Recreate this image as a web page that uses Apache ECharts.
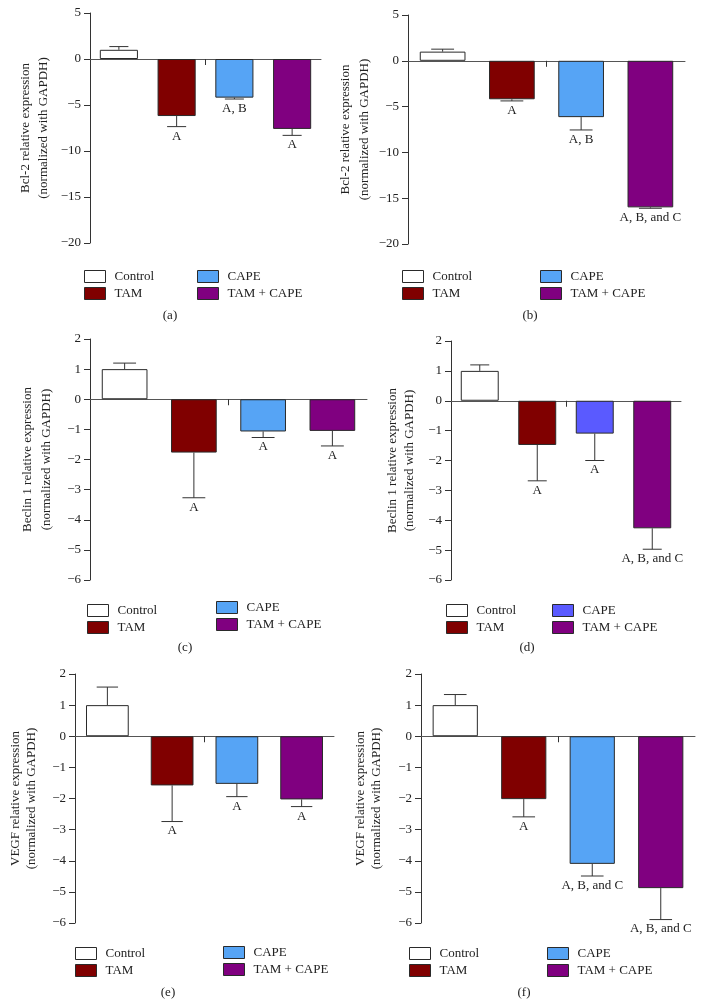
<!DOCTYPE html>
<html>
<head>
<meta charset="utf-8">
<script src="https://cdn.jsdelivr.net/npm/echarts@6/dist/echarts.min.js"></script>
<style>
  html, body { margin: 0; padding: 0; background: #fff; }
  #chart { width: 705px; height: 1008px; }
</style>
</head>
<body>
<div id="chart"></div>
<script>
// ---------- DATA ----------
const categories = ['Control', 'TAM', 'CAPE', 'TAM + CAPE'];

const bcl2A = [1.0, -6.2, -4.2, -7.6];
const bcl2AErr = [0.35, 1.15, 0.15, 0.7];
const bcl2ALabels = ['', 'A', 'A, B', 'A'];

const bcl2B = [1.0, -4.2, -6.15, -16.0];
const bcl2BErr = [0.27, 0.18, 1.4, 0.1];
const bcl2BLabels = ['', 'A', 'A, B', 'A, B, and C'];

const beclinC = [1.0, -1.77, -1.07, -1.05];
const beclinCErr = [0.2, 1.5, 0.2, 0.5];
const beclinCLabels = ['', 'A', 'A', 'A'];

const beclinD = [1.0, -1.48, -1.1, -4.27];
const beclinDErr = [0.2, 1.2, 0.9, 0.7];
const beclinDLabels = ['', 'A', 'A', 'A, B, and C'];

const vegfE = [1.0, -1.58, -1.53, -2.03];
const vegfEErr = [0.58, 1.16, 0.41, 0.23];
const vegfELabels = ['', 'A', 'A', 'A'];

const vegfF = [1.0, -2.02, -4.1, -4.88];
const vegfFErr = [0.34, 0.57, 0.39, 1.01];
const vegfFLabels = ['', 'A', 'A, B, and C', 'A, B, and C'];

const bclTicks = [5, 0, -5, -10, -15, -20];
const smallTicks = [2, 1, 0, -1, -2, -3, -4, -5, -6];
// gap tick on the x axis, between the TAM and CAPE groups (category positions 0..3)
const gapTicks = [1.5];

const bclName = 'Bcl-2 relative expression\n(normalized with GAPDH)';
const beclinName = 'Beclin 1 relative expression\n(normalized with GAPDH)';
const vegfName = 'VEGF relative expression\n(normalized with GAPDH)';

const captions = ['(a)', '(b)', '(c)', '(d)', '(e)', '(f)'];

// ---------- STYLE / LAYOUT ----------
const FONT = '"Liberation Serif", "DejaVu Serif", serif';
const TXT = '#222';
const colorsStd = ['#ffffff', '#800000', '#56a4f5', '#800080'];
const colorsD = ['#ffffff', '#800000', '#5a5aff', '#800080'];

const panels = [
  { vals: bcl2A, errs: bcl2AErr, labels: bcl2ALabels, ticks: bclTicks, step: 5, name: bclName,
    grid: { left: 90, top: 13, width: 231, height: 230 }, nameGap: 37, lh: 18, colors: colorsStd,
    leg1: [84, 270], leg2: [197, 270], cap: [170, 309] },
  { vals: bcl2B, errs: bcl2BErr, labels: bcl2BLabels, ticks: bclTicks, step: 5, name: bclName,
    grid: { left: 408, top: 15, width: 277, height: 229 }, nameGap: 34, lh: 19, colors: colorsStd,
    leg1: [402, 270], leg2: [540, 270], cap: [530, 309] },
  { vals: beclinC, errs: beclinCErr, labels: beclinCLabels, ticks: smallTicks, step: 1, name: beclinName,
    grid: { left: 90, top: 339, width: 277, height: 241 }, nameGap: 34, lh: 19, colors: colorsStd,
    leg1: [87, 604], leg2: [216, 601], cap: [185, 641] },
  { vals: beclinD, errs: beclinDErr, labels: beclinDLabels, ticks: smallTicks, step: 1, name: beclinName,
    grid: { left: 451, top: 341, width: 230, height: 239 }, nameGap: 33, lh: 17, colors: colorsD,
    leg1: [446, 604], leg2: [552, 604], cap: [527, 641] },
  { vals: vegfE, errs: vegfEErr, labels: vegfELabels, ticks: smallTicks, step: 1, name: vegfName,
    grid: { left: 75, top: 674, width: 259, height: 249 }, nameGap: 35, lh: 16, colors: colorsStd,
    leg1: [75, 947], leg2: [223, 946], cap: [168, 986] },
  { vals: vegfF, errs: vegfFErr, labels: vegfFLabels, ticks: smallTicks, step: 1, name: vegfName,
    grid: { left: 421, top: 674, width: 274, height: 249 }, nameGap: 36, lh: 16, colors: colorsStd,
    leg1: [409, 947], leg2: [547, 947], cap: [524, 986] }
];

const minusFmt = v => (v < 0 ? '\u2212' + Math.abs(v) : String(v));

const grids = [], xAxes = [], yAxes = [], series = [], legends = [], titles = [];

panels.forEach((p, k) => {
  grids.push(Object.assign({ outerBoundsMode: 'none', containLabel: false }, p.grid));
  const tmax = Math.max.apply(null, p.ticks), tmin = Math.min.apply(null, p.ticks);

  // x axis: category positions 0..3 on a value scale, line sits on y = 0
  xAxes.push({
    type: 'value', gridIndex: k, min: -0.5, max: categories.length - 0.5,
    axisLine: { show: true, onZero: true, lineStyle: { color: '#555', width: 1 } },
    axisTick: { show: true, customValues: gapTicks, length: 6, lineStyle: { color: '#333', width: 1 } },
    axisLabel: { show: false }, splitLine: { show: false }
  });

  yAxes.push({
    type: 'value', gridIndex: k, min: tmin, max: tmax, interval: p.step,
    name: p.name, nameLocation: 'middle', nameRotate: 90, nameGap: p.nameGap,
    nameTextStyle: { fontFamily: FONT, fontSize: 13, color: TXT, lineHeight: p.lh },
    axisLine: { show: true, onZero: false, lineStyle: { color: '#333', width: 1 } },
    axisTick: { show: true, inside: false, length: 6, lineStyle: { color: '#333' } },
    axisLabel: { fontFamily: FONT, fontSize: 13, color: TXT, margin: 9, formatter: minusFmt },
    splitLine: { show: false }
  });

  categories.forEach((c, i) => {
    series.push({
      type: 'bar', name: c, xAxisIndex: k, yAxisIndex: k, stack: 'p' + k,
      barWidth: '66%',
      data: [[i, p.vals[i]]],
      itemStyle: { color: p.colors[i], borderColor: '#2a2a2a', borderWidth: 1 },
      emphasis: { disabled: true }, silent: true
    });
  });

  const labels = p.labels;
  series.push({
    type: 'custom', name: 'err' + k, xAxisIndex: k, yAxisIndex: k, silent: true,
    data: categories.map((_, j) => [j, p.vals[j], p.errs[j]]),
    encode: { x: 0, y: 1 },
    renderItem: function (params, api) {
      const x = api.value(0), v = api.value(1), e = api.value(2);
      const end = v >= 0 ? v + e : v - e;
      const p0 = api.coord([x, v]);
      const p1 = api.coord([x, end]);
      const band = api.size([1, 0])[0];
      const hw = band * 0.165;
      const st = { stroke: '#333', lineWidth: 1 };
      const children = [
        { type: 'line', shape: { x1: p0[0], y1: p0[1], x2: p1[0], y2: p1[1] }, style: st },
        { type: 'line', shape: { x1: p1[0] - hw, y1: p1[1], x2: p1[0] + hw, y2: p1[1] }, style: st }
      ];
      const lab = labels[params.dataIndex];
      if (lab) {
        children.push({
          type: 'text', x: p1[0], y: p1[1] + 3,
          style: { text: lab, align: 'center', verticalAlign: 'top',
                   fontFamily: FONT, fontSize: 13, fill: TXT }
        });
      }
      return { type: 'group', children: children };
    }
  });

  const legItem = (i) => ({
    name: categories[i],
    itemStyle: { color: p.colors[i], borderColor: '#2a2a2a', borderWidth: 1 }
  });
  const legCommon = {
    orient: 'vertical', padding: 0, itemGap: 4, itemWidth: 21, itemHeight: 12,
    icon: 'rect', selectedMode: false,
    textStyle: { fontFamily: FONT, fontSize: 13, color: TXT, lineHeight: 13, padding: [0, 0, 0, 4] }
  };
  legends.push(Object.assign({}, legCommon, { left: p.leg1[0], top: p.leg1[1], data: [legItem(0), legItem(1)] }));
  legends.push(Object.assign({}, legCommon, { left: p.leg2[0], top: p.leg2[1], data: [legItem(2), legItem(3)] }));

  titles.push({
    text: captions[k], left: p.cap[0], top: p.cap[1], textAlign: 'center', padding: 0,
    textStyle: { fontFamily: FONT, fontSize: 13, fontWeight: 'normal', color: TXT }
  });
});

const chart = echarts.init(document.getElementById('chart'), null, { renderer: 'canvas' });
chart.setOption({
  backgroundColor: '#ffffff',
  animation: false,
  title: titles,
  legend: legends,
  grid: grids,
  xAxis: xAxes,
  yAxis: yAxes,
  tooltip: { show: false },
  series: series
});
</script>
</body>
</html>
